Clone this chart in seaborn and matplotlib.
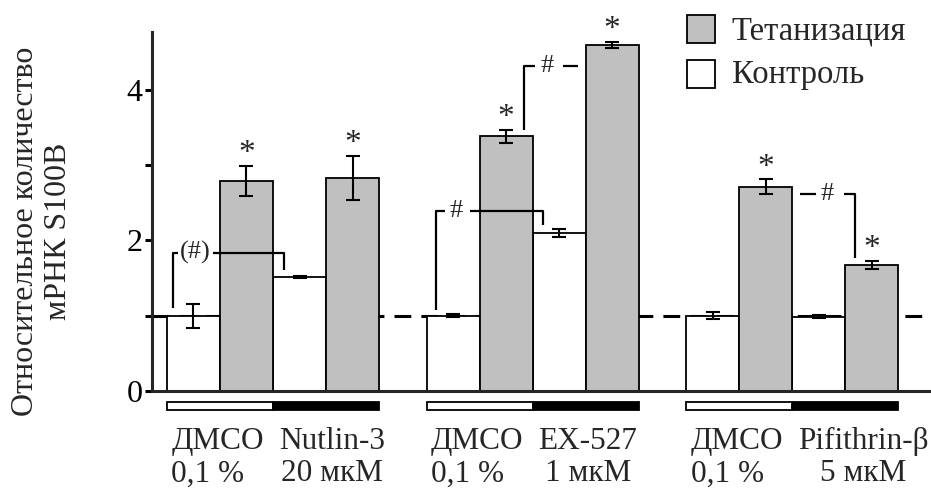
import numpy as np
import pandas as pd
import matplotlib
matplotlib.use("Agg")
import matplotlib.pyplot as plt
import seaborn as sns
from matplotlib.patches import Rectangle

# ---------------- data ----------------
vehicle_names = ["ДМСО", "ДМСО", "ДМСО"]
vehicle_doses = ["0,1 %", "0,1 %", "0,1 %"]
drug_names = ["Nutlin-3", "EX-527", "Pifithrin-β"]
drug_doses = ["20 мкМ", "1 мкМ", "5 мкМ"]

control_vehicle = [1.00, 1.00, 1.00]
control_vehicle_err = [0.16, 0.02, 0.045]
tetan_vehicle = [2.79, 3.38, 2.71]
tetan_vehicle_err = [0.20, 0.085, 0.10]
control_drug = [1.51, 2.095, 0.985]
control_drug_err = [0.015, 0.05, 0.02]
tetan_drug = [2.83, 4.59, 1.67]
tetan_drug_err = [0.29, 0.04, 0.055]

cond_labels = ["Контроль", "Тетанизация"]
legend_labels = ["Тетанизация", "Контроль"]
y_ticks = [0, 1, 2, 3, 4]
y_ticklabels = ["0", "", "2", "", "4"]
ylabel = "Относительное количество\nмРНК S100B"
star = "*"
hash_labels = ["(#)", "#", "#", "#"]

# ---------------- style ----------------
sns.set_theme(style="ticks")
plt.rcParams["font.family"] = ["Liberation Serif", "DejaVu Serif"]
FS = 23
XFS = 22.5
GRAY = "#c0c0c0"
GROUP_STEP = 4.9

rows = []
for g in range(3):
    base = g * GROUP_STEP
    rows.append((base + 0, control_vehicle[g], control_vehicle_err[g], cond_labels[0]))
    rows.append((base + 1, tetan_vehicle[g], tetan_vehicle_err[g], cond_labels[1]))
    rows.append((base + 2, control_drug[g], control_drug_err[g], cond_labels[0]))
    rows.append((base + 3, tetan_drug[g], tetan_drug_err[g], cond_labels[1]))
df = pd.DataFrame(rows, columns=["pos", "value", "err", "cond"])

fig = plt.figure(figsize=(9.31, 4.88), dpi=100)
ax = fig.add_axes([152 / 931, (488 - 391) / 488, (931 - 152) / 931, (391 - 31.7) / 488])

sns.barplot(data=df, x="pos", y="value", hue="cond", hue_order=cond_labels,
            palette={cond_labels[0]: "white", cond_labels[1]: GRAY},
            native_scale=True, dodge=False, width=1.0, errorbar=None,
            edgecolor="black", linewidth=1.3, legend=False, ax=ax, zorder=2)

ax.errorbar(df["pos"], df["value"], yerr=df["err"], fmt="none", ecolor="black",
            elinewidth=1.5, capsize=5, capthick=1.5, zorder=3)

ax.axhline(1.0, color="black", lw=2.2, ls=(0, (5.5, 3.3)), zorder=0.5)

ax.set_xlim(-0.783, 13.915)
ax.set_ylim(0, 4.77)
ax.set_yticks(y_ticks)
ax.set_yticklabels(y_ticklabels, fontsize=FS)
ax.set_xticks([])
ax.set_xlabel("")
ax.set_ylabel("")
for s in ["top", "right"]:
    ax.spines[s].set_visible(False)
for s in ["left", "bottom"]:
    ax.spines[s].set_linewidth(2.2)
ax.tick_params(axis="y", length=5, width=2.2, pad=2, colors="black")
ax.patch.set_alpha(0)

# treatment bars + labels
for g in range(3):
    base = g * GROUP_STEP
    ax.add_patch(Rectangle((base - 0.5, -0.252), 2, 0.11, fc="white", ec="black",
                           lw=1.3, clip_on=False))
    ax.add_patch(Rectangle((base + 1.5, -0.252), 2, 0.11, fc="black", ec="black",
                           lw=1.3, clip_on=False))
    ax.text(base - 0.42, -0.48, vehicle_names[g] + "\n" + vehicle_doses[g],
            ha="left", va="top", multialignment="left", fontsize=XFS,
            linespacing=1.15, clip_on=False)
    ax.text(base + 1.61, -0.48, drug_names[g] + "\n" + drug_doses[g],
            ha="left", va="top", multialignment="center", fontsize=XFS,
            linespacing=1.15, clip_on=False)

# asterisks
for _, r in df.iterrows():
    if r["cond"] == cond_labels[1]:
        ax.text(r["pos"], r["value"] + r["err"] + 0.16, star, ha="center",
                va="center", fontsize=FS + 1)

# significance brackets
LW = 1.6
def seg(xs, ys):
    ax.plot(xs, ys, color="black", lw=LW, solid_capstyle="butt", zorder=4)

HFS = 19
b = 0.0
seg([b - 0.38, b - 0.38, b - 0.30], [1.10, 1.835, 1.835])
ax.text(b + 0.04, 1.835, hash_labels[0], ha="center", va="center", fontsize=HFS, zorder=4)
seg([b + 0.37, b + 1.71, b + 1.71], [1.835, 1.835, 1.60])

b = GROUP_STEP
seg([b - 0.32, b - 0.32, b - 0.15], [1.08, 2.39, 2.39])
ax.text(b + 0.06, 2.39, hash_labels[1], ha="center", va="center", fontsize=HFS, zorder=4)
seg([b + 0.31, b + 1.70, b + 1.70], [2.39, 2.39, 2.20])

seg([b + 1.33, b + 1.33, b + 1.55], [3.47, 4.31, 4.31])
ax.text(b + 1.77, 4.31, hash_labels[2], ha="center", va="center", fontsize=HFS, zorder=4)
seg([b + 2.08, b + 2.36], [4.31, 4.31])

b = 2 * GROUP_STEP
seg([b + 1.64, b + 1.95], [2.61, 2.61])
ax.text(b + 2.16, 2.61, hash_labels[3], ha="center", va="center", fontsize=HFS, zorder=4)
seg([b + 2.47, b + 2.69, b + 2.69], [2.61, 2.61, 1.76])

# legend (manual)
W, H = 931, 488
for (y0, fc, lab, base_y) in [(15, GRAY, legend_labels[0], 40), (60, "white", legend_labels[1], 83.3)]:
    fig.patches.append(Rectangle((687 / W, 1 - (y0 + 27.7) / H), 28 / W, 27.7 / H,
                                 fc=fc, ec="black", lw=1.3, transform=fig.transFigure,
                                 figure=fig))
    fig.text(731.7 / W, 1 - base_y / H, lab, ha="left", va="baseline", fontsize=FS + 0.5)

fig.text(42 / W, 1 - 231 / H, ylabel, rotation=90, ha="center", va="center",
         multialignment="center", fontsize=FS, linespacing=1.15)

fig.savefig("out.png", dpi=100)
